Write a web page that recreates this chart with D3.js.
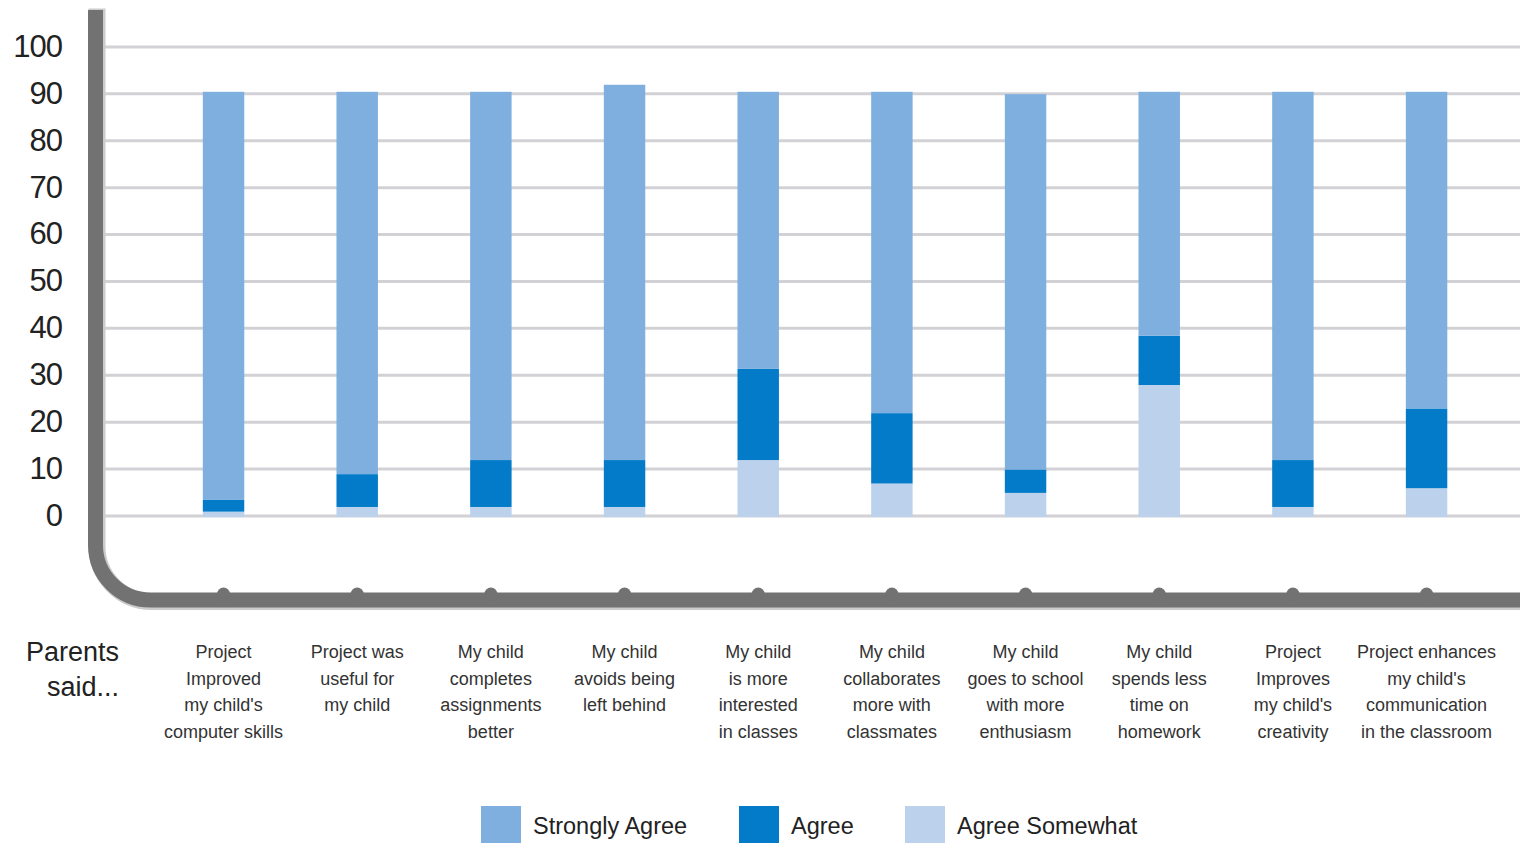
<!DOCTYPE html>
<html>
<head>
    <meta charset="utf-8">
    <title>Parents said</title>
    <style>
        body { margin: 0; background: #fff; }
        text { font-family: "Liberation Sans", Arial, sans-serif; }
    </style>
</head>
<body>
    <script src="https://cdnjs.cloudflare.com/ajax/libs/d3/7.9.0/d3.min.js"></script>
    <script>
        // chart values
        const categories = [
            ["Project", "Improved", "my child's", "computer skills"],
            ["Project was", "useful for", "my child"],
            ["My child", "completes", "assignments", "better"],
            ["My child", "avoids being", "left behind"],
            ["My child", "is more", "interested", "in classes"],
            ["My child", "collaborates", "more with", "classmates"],
            ["My child", "goes to school", "with more", "enthusiasm"],
            ["My child", "spends less", "time on", "homework"],
            ["Project", "Improves", "my child's", "creativity"],
            ["Project enhances", "my child's", "communication", "in the classroom"]
        ];
        const agreeSomewhat = [0.5, 1.5, 1.5, 1.5, 11.5, 6.5, 4.5, 27.5, 1.5, 5.5];
        const agree = [2.5, 7, 10, 10, 19.5, 15, 5, 10.5, 10, 17];
        const stronglyAgree = [87, 81.5, 78.5, 80, 59, 68.5, 80, 52, 78.5, 67.5];
        const yTicks = [0, 10, 20, 30, 40, 50, 60, 70, 80, 90, 100];
        const seriesNames = ["Strongly Agree", "Agree", "Agree Somewhat"];
        const colors = {"Agree Somewhat": "#bbd1ec", "Agree": "#037bc8", "Strongly Agree": "#7eafdf"};

        const width = 1520, height = 843;

        const svg = d3.select("body").append("svg")
            .attr("width", width)
            .attr("height", height);

        const x = d3.scaleBand()
            .domain(d3.range(categories.length))
            .range([156.7, 1493.4])
            .paddingInner(0.69)
            .paddingOuter(0.345);

        const y = d3.scaleLinear()
            .domain([0, 100])
            .range([515.5, 46.4]);

        // grid lines
        svg.append("g")
            .attr("transform", "translate(103,0)")
            .call(d3.axisRight(y).tickValues(yTicks).tickSize(width - 103).tickFormat(""))
            .call(g => g.select(".domain").remove())
            .selectAll("line")
            .attr("stroke", "#d2d2d6")
            .attr("stroke-width", 3);

        // y labels
        svg.append("g")
            .attr("transform", "translate(62,0)")
            .call(d3.axisLeft(y).tickValues(yTicks).tickSize(0).tickPadding(0))
            .call(g => g.select(".domain").remove())
            .selectAll("text")
            .attr("font-size", 31)
            .attr("letter-spacing", -1)
            .attr("fill", "#222")
            .attr("font-family", "Liberation Sans, Arial, sans-serif");

        // stacked bars
        const rows = categories.map((c, i) => ({
            i: i,
            "Agree Somewhat": agreeSomewhat[i],
            "Agree": agree[i],
            "Strongly Agree": stronglyAgree[i]
        }));
        const stack = d3.stack().keys(["Agree Somewhat", "Agree", "Strongly Agree"])(rows);

        svg.append("g")
            .selectAll("g")
            .data(stack)
            .join("g")
            .attr("fill", d => colors[d.key])
            .selectAll("rect")
            .data(d => d)
            .join("rect")
            .attr("x", d => x(d.data.i))
            .attr("width", x.bandwidth())
            .attr("y", d => y(d[1]) - 1.5)
            .attr("height", d => y(d[0]) - y(d[1]) + (d[0] === 0 ? 3 : 0));

        // frame with rounded corner
        const framePath = "M95.5,10 V545 A55,55 0 0 0 150.5,600 H1530";
        svg.append("path")
            .attr("d", framePath.replace("M95.5,10", "M95.5,7"))
            .attr("transform", "translate(1.5,1.5)")
            .attr("fill", "none")
            .attr("stroke", "#cbcbcb")
            .attr("stroke-width", 17);
        svg.append("path")
            .attr("d", framePath)
            .attr("fill", "none")
            .attr("stroke", "#727272")
            .attr("stroke-width", 15);

        // tick bumps
        svg.append("g")
            .selectAll("circle")
            .data(categories)
            .join("circle")
            .attr("cx", (d, i) => x(i) + x.bandwidth() / 2)
            .attr("cy", 594)
            .attr("r", 6.5)
            .attr("fill", "#727272");

        // category labels
        const lab = svg.append("g")
            .selectAll("text")
            .data(categories)
            .join("text")
            .attr("x", (d, i) => x(i) + x.bandwidth() / 2)
            .attr("y", 658)
            .attr("text-anchor", "middle")
            .attr("font-size", 18)
            .attr("fill", "#333");
        lab.selectAll("tspan")
            .data(d => d)
            .join("tspan")
            .attr("x", function () { return this.parentNode.getAttribute("x"); })
            .attr("dy", (d, j) => j === 0 ? 0 : 26.5)
            .text(d => d);

        // "Parents said..."
        svg.append("text")
            .attr("text-anchor", "end")
            .attr("font-size", 27)
            .attr("fill", "#222")
            .selectAll("tspan")
            .data(["Parents", "said..."])
            .join("tspan")
            .attr("x", 119)
            .attr("y", (d, j) => 661 + j * 35)
            .text(d => d);

        // legend
        const legendX = [481, 739, 905];
        const leg = svg.append("g")
            .selectAll("g")
            .data(seriesNames)
            .join("g")
            .attr("transform", (d, i) => `translate(${legendX[i]},806)`);
        leg.append("rect")
            .attr("width", 40)
            .attr("height", 37)
            .attr("fill", d => colors[d]);
        leg.append("text")
            .attr("x", 52)
            .attr("y", 28)
            .attr("font-size", 23.5)
            .attr("fill", "#222")
            .text(d => d);
    </script>
</body>
</html>
